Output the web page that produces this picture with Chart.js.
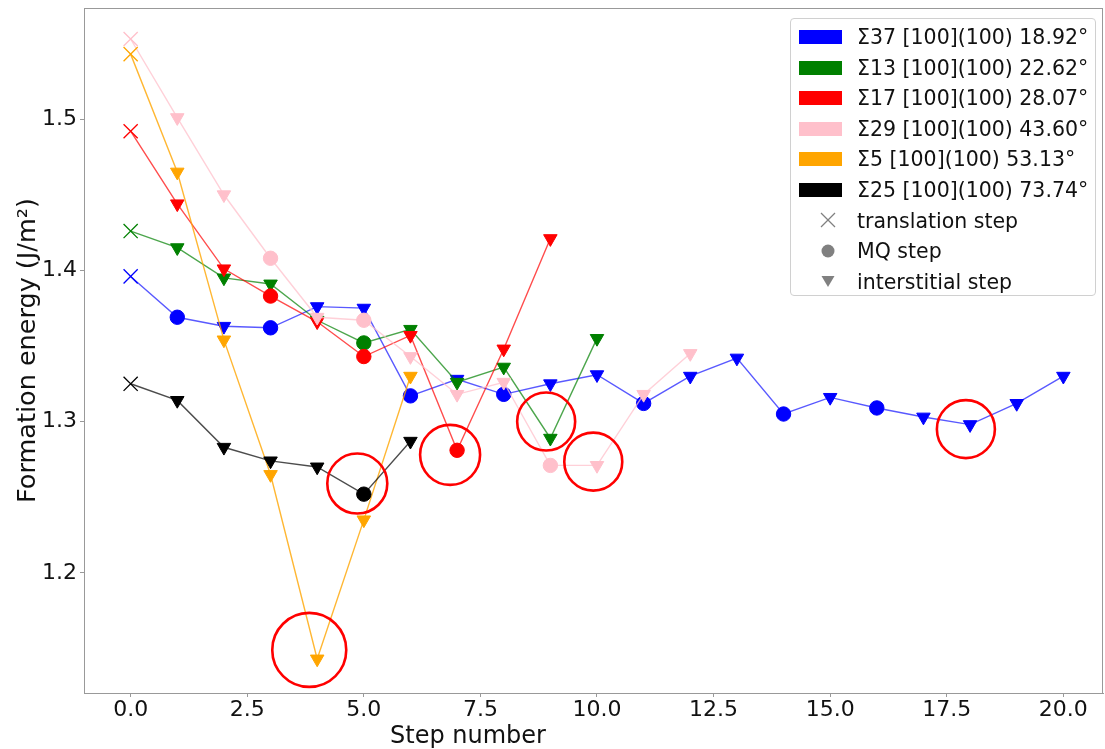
<!DOCTYPE html>
<html>
<head>
<meta charset="utf-8">
<script src="https://cdn.jsdelivr.net/npm/chart.js@4"></script>
<style>
    html, body { margin: 0; padding: 0; background: #fff; }
    #wrap { position: relative; width: 1105px; height: 749px; font-family: "DejaVu Sans", sans-serif; }
    #xlabel { position: absolute; left: 390px; top: 721px; font-size: 24px; line-height: 28px; color: #111; }
    #legend {
        position: absolute; left: 790px; top: 18px; width: 306px; height: 278px;
        border: 1px solid #d0d0d0; border-radius: 4px; background: rgba(255,255,255,0.85);
        padding-top: 3px; box-sizing: border-box;
    }
    .row { position: relative; height: 30.6px; font-size: 20.5px; color: #111; }
    .row .patch { position: absolute; left: 8px; top: 8px; width: 43px; height: 14px; }
    .row svg { position: absolute; left: 28px; top: 5px; }
    .row span { position: absolute; left: 66px; top: 2px; line-height: 26px; white-space: nowrap; }
</style>
</head>
<body>
<div id="wrap">
    <canvas id="chart" width="1105" height="749"></canvas>
    <div id="xlabel">Step number</div>
    <div id="legend"></div>
</div>
<script>
// Formation energy per step (J/m²), marker kind per step: x = translation, o = MQ, v = interstitial
const blueVals   = [1.396, 1.369, 1.363, 1.362, 1.376, 1.375, 1.317, 1.328, 1.318, 1.325, 1.331, 1.312, 1.330, 1.342, 1.305, 1.316, 1.309, 1.303, 1.298, 1.312, 1.330];
const blueKinds  = ['x','o','v','o','v','v','o','v','o','v','v','o','v','v','o','v','o','v','v','v','v'];
const greenVals  = [1.426, 1.415, 1.395, 1.391, 1.367, 1.352, 1.361, 1.326, 1.336, 1.289, 1.355];
const greenKinds = ['x','v','v','v','v','o','v','v','v','v','v'];
const redVals    = [1.492, 1.444, 1.401, 1.383, 1.366, 1.343, 1.357, 1.281, 1.348, 1.421];
const redKinds   = ['x','v','v','o','v','o','v','o','v','v'];
const pinkVals   = [1.553, 1.501, 1.450, 1.408, 1.369, 1.367, 1.343, 1.318, 1.326, 1.271, 1.271, 1.318, 1.345];
const pinkKinds  = ['x','v','v','o','v','o','v','v','v','o','v','v','v'];
const orangeVals = [1.543, 1.465, 1.354, 1.265, 1.143, 1.235, 1.330];
const orangeKinds = ['x','v','v','v','v','v','v'];
const blackVals  = [1.325, 1.314, 1.283, 1.274, 1.270, 1.252, 1.287];
const blackKinds = ['x','v','v','v','v','o','v'];

const seriesLabels = [
    'Σ37 [100](100) 18.92°',
    'Σ13 [100](100) 22.62°',
    'Σ17 [100](100) 28.07°',
    'Σ29 [100](100) 43.60°',
    'Σ5 [100](100) 53.13°',
    'Σ25 [100](100) 73.74°'
];
const seriesColors = ['#0000ff', '#008000', '#ff0000', '#ffc0cb', '#ffa500', '#000000'];
const lineColors = ['rgba(0,0,255,0.65)', 'rgba(0,128,0,0.7)', 'rgba(255,0,0,0.7)', 'rgba(255,192,203,0.75)', 'rgba(255,165,0,0.8)', 'rgba(0,0,0,0.7)'];

// highlighted points (red rings): step, energy, ring radius
const ringSteps  = [4.86, 6.85, 8.91, 9.92, 17.91, 3.83];
const ringVals   = [1.259, 1.278, 1.300, 1.2735, 1.295, 1.149];
const ringSizes  = [30, 30, 29, 29, 29, 37];

const xTicks = [0, 2.5, 5, 7.5, 10, 12.5, 15, 17.5, 20];
const yTicks = [1.2, 1.3, 1.4, 1.5];

const allVals = [blueVals, greenVals, redVals, pinkVals, orangeVals, blackVals];
const allKinds = [blueKinds, greenKinds, redKinds, pinkKinds, orangeKinds, blackKinds];

const styleOf = { x: 'crossRot', o: 'circle', v: 'triangle' };
const radiusOf = { x: 10, o: 7.2, v: 7.8 };

const datasets = allVals.map((vals, i) => {
    const kinds = allKinds[i];
    return {
        label: seriesLabels[i],
        data: vals.map((v, step) => ({ x: step, y: v })),
        showLine: true,
        borderColor: lineColors[i],
        borderWidth: 1.4,
        pointStyle: kinds.map(k => styleOf[k]),
        pointRadius: kinds.map(k => radiusOf[k]),
        pointRotation: kinds.map(k => k === 'v' ? 180 : 0),
        pointBackgroundColor: seriesColors[i],
        pointBorderColor: seriesColors[i],
        pointBorderWidth: kinds.map(k => k === 'x' ? 1.3 : 1),
        order: 6 - i
    };
});

datasets.push({
    label: 'highlight',
    data: ringSteps.map((s, i) => ({ x: s, y: ringVals[i] })),
    showLine: false,
    pointStyle: 'circle',
    pointRadius: ringSizes,
    pointBackgroundColor: 'rgba(0,0,0,0)',
    pointBorderColor: '#ff0000',
    pointBorderWidth: 2.6,
    order: -1
});

// full box around the plot area, like the matplotlib spines
const frame = {
    id: 'frame',
    afterDraw(chart) {
        const { ctx, chartArea: a } = chart;
        ctx.save();
        ctx.strokeStyle = '#999';
        ctx.lineWidth = 1;
        ctx.strokeRect(a.left + 0.5, a.top + 0.5, a.right - a.left - 1, a.bottom - a.top);
        ctx.restore();
    }
};

const tickFont = { family: 'DejaVu Sans', size: 22 };

new Chart(document.getElementById('chart'), {
    type: 'scatter',
    data: { datasets },
    options: {
        responsive: false,
        animation: false,
        events: [],
        layout: { autoPadding: false, padding: { top: 8, right: 2, left: 0, bottom: 0 } },
        plugins: { legend: { display: false }, tooltip: { enabled: false } },
        scales: {
            x: {
                type: 'linear',
                min: -1,
                max: 20.85,
                afterBuildTicks: s => { s.ticks = xTicks.map(v => ({ value: v })); },
                afterFit: s => { s.height = 56; s.paddingLeft = 0; s.paddingRight = 0; },
                grid: { drawOnChartArea: false, tickLength: 4, color: '#999' },
                border: { color: '#999' },
                ticks: { font: tickFont, color: '#111', padding: 0, maxRotation: 0, callback: v => v.toFixed(1) }
            },
            y: {
                min: 1.1205,
                max: 1.5735,
                afterBuildTicks: s => { s.ticks = yTicks.map(v => ({ value: v })); },
                afterFit: s => { s.width = 84; s.paddingTop = 0; s.paddingBottom = 0; },
                grid: { drawOnChartArea: false, tickLength: 4, color: '#999' },
                border: { color: '#999' },
                ticks: { font: tickFont, color: '#111', padding: 3, callback: v => v.toFixed(1) },
                title: {
                    display: true,
                    text: 'Formation energy (J/m²)',
                    font: { family: 'DejaVu Sans', size: 25.5 },
                    color: '#111',
                    padding: { top: 13, bottom: 0 }
                }
            }
        }
    },
    plugins: [frame]
});

// legend box
const legend = document.getElementById('legend');
seriesLabels.forEach((label, i) => {
    legend.insertAdjacentHTML('beforeend',
        `<div class="row"><div class="patch" style="background:${seriesColors[i]}"></div><span>${label}</span></div>`);
});
const markerRows = [
    { text: 'translation step', svg: '<line x1="2" y1="2" x2="16" y2="16" stroke="#808080" stroke-width="1.3"/><line x1="16" y1="2" x2="2" y2="16" stroke="#808080" stroke-width="1.3"/>' },
    { text: 'MQ step', svg: '<circle cx="9" cy="10" r="6.5" fill="#808080"/>' },
    { text: 'interstitial step', svg: '<polygon points="2.5,4 15.5,4 9,15" fill="#808080"/>' }
];
markerRows.forEach(m => {
    legend.insertAdjacentHTML('beforeend',
        `<div class="row"><svg width="18" height="20">${m.svg}</svg><span>${m.text}</span></div>`);
});
</script>
</body>
</html>
